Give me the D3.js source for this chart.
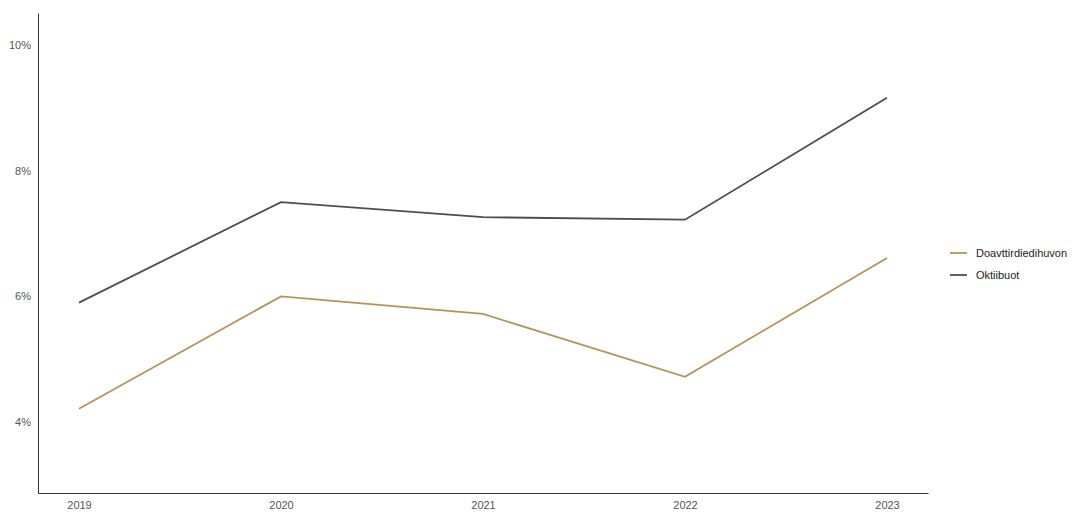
<!DOCTYPE html>
<html>
<head>
<meta charset="utf-8">
<script src="https://cdn.jsdelivr.net/npm/d3@7"></script>
<style>
  html, body { margin: 0; padding: 0; background: #ffffff; }
  svg { display: block; font-family: "Liberation Sans", Arial, sans-serif; }
</style>
</head>
<body>
<svg id="chart" width="1074" height="513"></svg>
<script>
const years = ["2019", "2020", "2021", "2022", "2023"];
const seriesNames = ["Doavttirdiedihuvon", "Oktiibuot"];
const doavttirValues = [4.21, 6.00, 5.72, 4.72, 6.61];
const oktiibuotValues = [5.90, 7.50, 7.26, 7.22, 9.16];
const yTicks = [4, 6, 8, 10];
const seriesColors = ["#b8925a", "#4d4d4d"];

(function () {
  const series = [
    { name: seriesNames[0], values: doavttirValues, color: seriesColors[0] },
    { name: seriesNames[1], values: oktiibuotValues, color: seriesColors[1] }
  ];

  const svg = d3.select("#chart");
  const mLeft = 38, mRight = 928, mTop = 13, mBottom = 493;

  const x = d3.scalePoint().domain(years).range([mLeft, mRight]).padding(0.203);
  const y = d3.scaleLinear().domain([2.87, 10.51]).range([mBottom, mTop]);

  const yAxis = d3.axisLeft(y).tickValues(yTicks).tickSize(0).tickPadding(7).tickFormat(d => d + "%");
  const gy = svg.append("g").attr("transform", `translate(${mLeft},0)`).call(yAxis);
  gy.select(".domain").attr("stroke", "#333").attr("stroke-width", 1);
  gy.selectAll("text").attr("fill", "#555").attr("font-size", 11);

  const xAxis = d3.axisBottom(x).tickSize(0).tickPadding(8);
  const gx = svg.append("g").attr("transform", `translate(0,${mBottom})`).call(xAxis);
  gx.select(".domain").attr("stroke", "#333").attr("stroke-width", 1);
  gx.selectAll("text").attr("fill", "#555").attr("font-size", 11);

  const line = d3.line().x((d, i) => x(years[i])).y(d => y(d));

  series.forEach(s => {
    svg.append("path")
      .datum(s.values)
      .attr("fill", "none")
      .attr("stroke", s.color)
      .attr("stroke-width", 1.8)
      .attr("d", line);
  });

  const legend = svg.append("g").attr("transform", "translate(950,253)");
  series.forEach((s, i) => {
    const g = legend.append("g").attr("transform", `translate(0,${i * 22})`);
    g.append("line").attr("x1", 0).attr("x2", 17).attr("y1", 0).attr("y2", 0)
      .attr("stroke", s.color).attr("stroke-width", 1.8);
    g.append("text").attr("x", 26).attr("y", 0).attr("dy", "0.35em")
      .attr("font-size", 11).attr("fill", "#222").text(s.name);
  });
})();
</script>
</body>
</html>
